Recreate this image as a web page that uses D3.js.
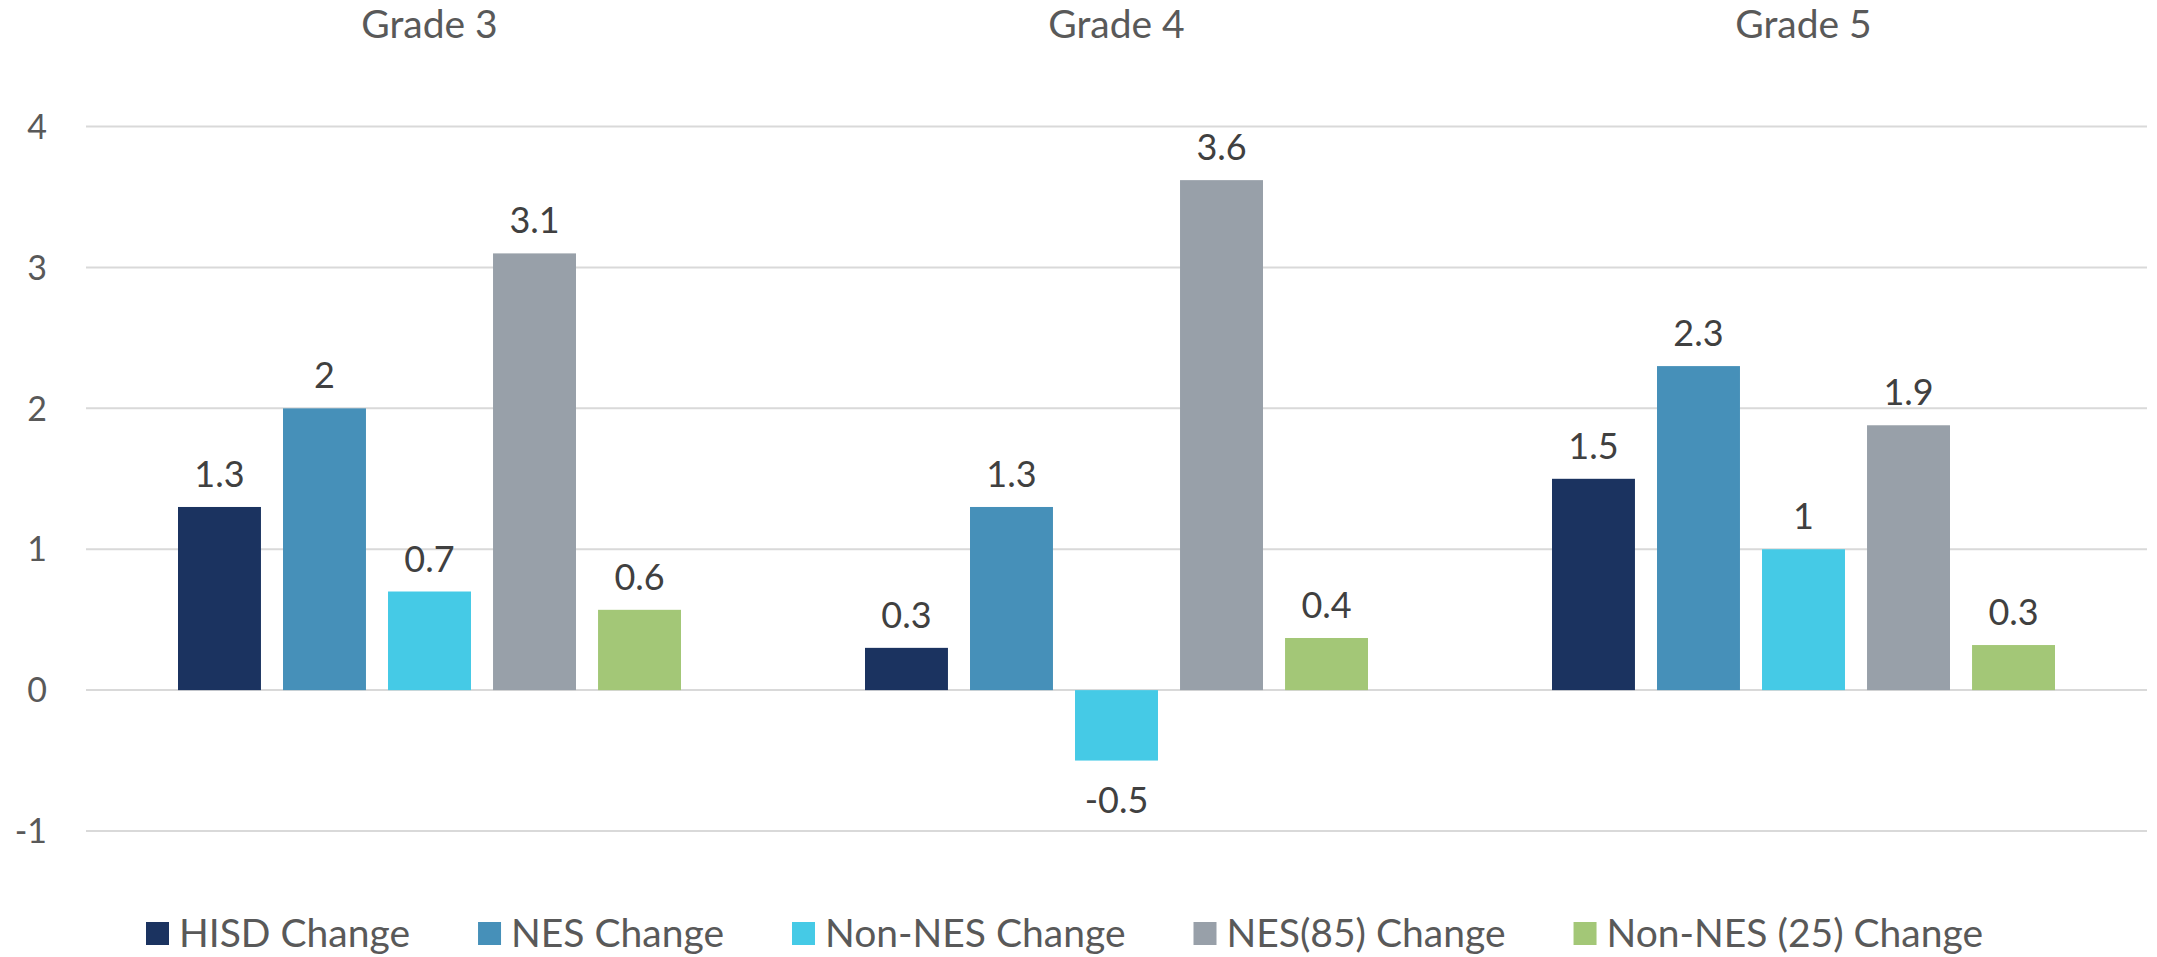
<!DOCTYPE html>
<html lang="en">
	<head>
		<meta charset="utf-8">
		<title>Grade change chart</title>
		<script src="https://d3js.org/d3.v7.min.js"></script>
		<style type="text/css">
			body { margin: 0; background: #fff; }
			text { font-family: Lato, "Open Sans", sans-serif; }
		</style>
	</head>
	<body>
		<script type="text/javascript">
			//Data
			var grades = ["Grade 3", "Grade 4", "Grade 5"];
			var seriesNames = ["HISD Change", "NES Change", "Non-NES Change", "NES(85) Change", "Non-NES (25) Change"];
			var hisd = [1.3, 0.3, 1.5];
			var nes = [2.0, 1.3, 2.3];
			var nonNes = [0.7, -0.5, 1.0];
			var nes85 = [3.1, 3.62, 1.88];
			var nonNes25 = [0.57, 0.37, 0.32];
			var yTicks = [-1, 0, 1, 2, 3, 4];
			var colors = ["#1b3360", "#4690b9", "#45cae6", "#98a0a9", "#a3c777"];

			var seriesValues = [hisd, nes, nonNes, nes85, nonNes25];

			//Width and height
			var w = 2157;
			var h = 957;
			var plot = {left: 86, right: 2147};

			var svg = d3.select("body")
						.append("svg")
						.attr("width", w)
						.attr("height", h);

			var x0 = d3.scaleBand()
						.domain(grades)
						.range([plot.left, plot.right]);

			// 5 bars of 83px, 105px step, centred in each band
			var x1 = d3.scaleBand()
						.domain(seriesNames)
						.range([x0.bandwidth() / 2 - 251.5, x0.bandwidth() / 2 + 251.5])
						.paddingInner(0.21)
						.paddingOuter(0);

			var y = d3.scaleLinear()
						.domain([-1, 4])
						.range([831, 126.6]);

			//Gridlines
			svg.append("g")
				.selectAll("line")
				.data(yTicks)
				.enter()
				.append("line")
				.attr("x1", plot.left)
				.attr("x2", plot.right)
				.attr("y1", function(d){ return y(d); })
				.attr("y2", function(d){ return y(d); })
				.attr("stroke", "#d9d9d9")
				.attr("stroke-width", 2);

			//Y axis labels
			svg.append("g")
				.selectAll("text")
				.data(yTicks)
				.enter()
				.append("text")
				.attr("x", 47)
				.attr("y", function(d){ return y(d); })
				.attr("dy", "0.36em")
				.attr("text-anchor", "end")
				.attr("font-size", 34)
				.attr("fill", "#595959")
				.text(function(d){ return d; });

			//Category labels on top
			svg.append("g")
				.selectAll("text")
				.data(grades)
				.enter()
				.append("text")
				.attr("x", function(d){ return x0(d) + x0.bandwidth() / 2; })
				.attr("y", 38)
				.attr("text-anchor", "middle")
				.attr("font-size", 39)
				.attr("fill", "#595959")
				.text(function(d){ return d; });

			//Bars
			var fmt = function(v){ return d3.format(".1~f")(v).replace("\u2212", "-"); };
			var groups = svg.selectAll("g.grade")
				.data(grades)
				.enter()
				.append("g")
				.attr("class", "grade")
				.attr("transform", function(d){ return "translate(" + x0(d) + ",0)"; });

			groups.selectAll("rect")
				.data(function(d, gi){
					return seriesNames.map(function(s, si){ return {s: s, si: si, v: seriesValues[si][gi]}; });
				})
				.enter()
				.append("rect")
				.attr("x", function(d){ return x1(d.s); })
				.attr("width", x1.bandwidth())
				.attr("y", function(d){ return y(Math.max(0, d.v)); })
				.attr("height", function(d){ return Math.abs(y(d.v) - y(0)); })
				.attr("fill", function(d){ return colors[d.si]; });

			groups.selectAll("text")
				.data(function(d, gi){
					return seriesNames.map(function(s, si){ return {s: s, si: si, v: seriesValues[si][gi]}; });
				})
				.enter()
				.append("text")
				.attr("x", function(d){ return x1(d.s) + x1.bandwidth() / 2; })
				.attr("y", function(d){ return d.v >= 0 ? y(d.v) - 20 : y(d.v) + 52; })
				.attr("text-anchor", "middle")
				.attr("font-size", 36)
				.attr("fill", "#404040")
				.text(function(d){ return fmt(d.v); });

			//Legend
			var legend = svg.append("g");
			var items = legend.selectAll("g")
				.data(seriesNames)
				.enter()
				.append("g");
			items.append("rect")
				.attr("width", 23)
				.attr("height", 23)
				.attr("y", -11)
				.attr("fill", function(d, i){ return colors[i]; });
			items.append("text")
				.attr("x", 33)
				.attr("dy", "0.36em")
				.attr("font-size", 39)
				.attr("fill", "#595959")
				.text(function(d){ return d; });

			var pos = 0;
			items.each(function(){
				var g = d3.select(this);
				g.attr("transform", "translate(" + pos + ",0)");
				pos += 33 + g.select("text").node().getComputedTextLength() + 68;
			});
			legend.attr("transform", "translate(146,933)");
		</script>
	</body>
</html>
